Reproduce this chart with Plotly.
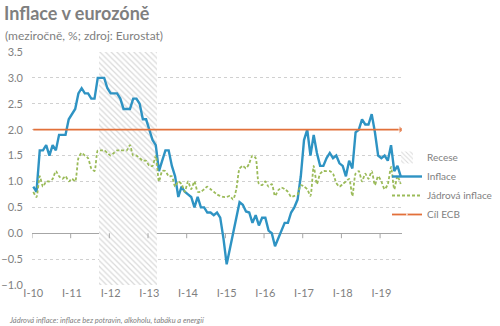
import plotly.graph_objects as go

# ---------------- data ----------------
tick_labels = ["I-10", "I-11", "I-12", "I-13", "I-14", "I-15", "I-16", "I-17", "I-18", "I-19"]

inflace = [
    0.9, 0.8, 1.6, 1.6, 1.7, 1.5, 1.7, 1.6, 1.9, 1.9, 1.9, 2.2,      # 2010
    2.3, 2.4, 2.7, 2.8, 2.7, 2.7, 2.6, 2.6, 3.0, 3.0, 3.0, 2.8,      # 2011
    2.7, 2.7, 2.7, 2.6, 2.4, 2.4, 2.4, 2.6, 2.6, 2.5, 2.2, 2.2,      # 2012
    2.0, 1.8, 1.7, 1.2, 1.4, 1.6, 1.6, 1.3, 1.1, 0.7, 0.9, 0.8,      # 2013
    0.75, 0.7, 0.5, 0.7, 0.5, 0.5, 0.4, 0.4, 0.35, 0.4, 0.3, -0.1,   # 2014
    -0.6, -0.3, 0.0, 0.3, 0.6, 0.55, 0.42, 0.4, 0.2, 0.35, 0.15, 0.3,  # 2015
    0.3, 0.05, 0.0, -0.25, -0.1, 0.05, 0.2, 0.2, 0.4, 0.5, 0.65, 1.1,  # 2016
    1.8, 2.0, 1.5, 1.9, 1.55, 1.3, 1.3, 1.45, 1.55, 1.45, 1.5, 1.35,  # 2017
    1.3, 1.1, 1.4, 1.25, 1.95, 2.0, 2.2, 2.1, 2.1, 2.3, 1.95, 1.5,    # 2018
    1.45, 1.5, 1.4, 1.7, 1.2, 1.3, 1.1,                               # 2019
]

jadrova = [
    0.8, 0.7, 1.1, 0.9, 1.0, 1.0, 1.05, 1.2, 1.1, 1.05, 1.1, 1.0,     # 2010
    1.05, 1.0, 1.45, 1.55, 1.5, 1.45, 1.25, 1.2, 1.6, 1.6, 1.6, 1.55,  # 2011
    1.5, 1.55, 1.6, 1.6, 1.6, 1.6, 1.7, 1.5, 1.5, 1.45, 1.4, 1.4,     # 2012
    1.3, 1.3, 1.5, 1.0, 1.2, 1.2, 1.1, 1.1, 0.9, 1.0, 0.95, 0.8,      # 2013
    1.0, 0.85, 1.0, 0.8, 0.8, 0.85, 0.9, 0.85, 0.8, 0.75, 0.72, 0.7,  # 2014
    0.7, 0.72, 0.65, 0.85, 1.25, 1.3, 1.25, 1.35, 1.5, 1.45, 0.95, 0.93,  # 2015
    1.0, 0.9, 0.95, 0.72, 0.83, 0.88, 0.85, 0.8, 0.7, 0.72, 0.75, 0.93,  # 2016
    0.9, 0.85, 0.72, 1.3, 0.95, 1.15, 1.2, 1.2, 1.2, 1.15, 0.97, 0.9,   # 2017
    0.95, 1.0, 1.05, 0.72, 1.15, 1.2, 1.0, 1.15, 1.05, 1.2, 0.93, 1.1,  # 2018
    1.0, 0.85, 0.95, 1.28, 0.85, 1.1, 0.95,                              # 2019
]

cil_ecb = 2.0
recese_od = 21   # month index (X-2011)
recese_do = 38   # month index (III-2013)

# ---------------- derived ----------------
n = len(inflace)
months = list(range(n))
tick_vals = [12 * i for i in range(len(tick_labels))]

W, H = 500, 326
L, R, T, B = 32, 98, 52, 41
pw, ph = W - L - R, H - T - B


def px_x(x):
    return (x - L) / pw


def px_y(y):
    return (H - B - y) / ph


GRAY = "#7F7F7F"
FONT = "Lato"

fig = go.Figure()

ymin, ymax = -1.0, 3.5

# recession band (hatched)
fig.add_trace(go.Bar(
    x=[(recese_od + recese_do) / 2], y=[ymax - ymin], base=[ymin],
    width=[recese_do - recese_od + 1],
    name="Recese",
    marker=dict(color="white", line=dict(width=0),
                pattern=dict(shape="\\", fgcolor="#B3B3B3", bgcolor="white",
                             size=4, solidity=0.3)),
    hoverinfo="skip",
))

fig.add_trace(go.Scatter(
    x=months, y=inflace, mode="lines", name="Inflace",
    line=dict(color="#2E93C3", width=2.4),
))

fig.add_trace(go.Scatter(
    x=months, y=jadrova, mode="lines", name="Jádrová inflace",
    line=dict(color="#9BBB59", width=1.8, dash="3px,2px", shape="spline", smoothing=0.6),
))

ecb_x = months
ecb_y = [cil_ecb] * n
fig.add_trace(go.Scatter(
    x=ecb_x, y=ecb_y, mode="lines+markers", name="Cíl ECB",
    line=dict(color="#E2703A", width=1.8),
    marker=dict(symbol="triangle-right", color="#E2703A",
                size=[0] * (n - 1) + [7]),
))

# x-axis tick marks at y=0
shapes = []
for tv in tick_vals:
    shapes.append(dict(type="line", xref="x", yref="y", x0=tv - 0.4, x1=tv - 0.4,
                       ysizemode="pixel", yanchor=0, y0=0, y1=-5,
                       line=dict(color="#A6A6A6", width=1)))

annotations = [
    dict(text="(meziročně, %; zdroj: Eurostat)", xref="paper", yref="paper",
         x=px_x(3), y=px_y(36), xanchor="left", yanchor="middle", showarrow=False,
         font=dict(family=FONT, size=12, color=GRAY)),
    dict(text="<i>Jádrová inflace: inflace bez potravin, alkoholu, tabáku a energií</i>",
         xref="paper", yref="paper",
         x=px_x(7), y=px_y(320), xanchor="left", yanchor="middle", showarrow=False,
         font=dict(family=FONT, size=7.5, color=GRAY)),
]

fig.update_layout(
    width=W, height=H,
    margin=dict(l=L, r=R, t=T, b=B, pad=0, autoexpand=False),
    paper_bgcolor="white", plot_bgcolor="white",
    font=dict(family=FONT, size=11, color=GRAY),
    title=dict(text="<b>Inflace v eurozóně</b>", x=4 / W, xanchor="left", xref="container",
               y=1 - 14 / H, yanchor="middle", yref="container",
               font=dict(family=FONT, size=18, color=GRAY)),
    bargap=0,
    showlegend=True,
    legend=dict(x=387 / W, y=1 - 143 / H, xref="container", yref="container",
                xanchor="left", yanchor="top",
                bgcolor="rgba(0,0,0,0)", font=dict(family=FONT, size=10, color=GRAY),
                itemwidth=30, traceorder="normal"),
    shapes=shapes,
    annotations=annotations,
)

fig.update_xaxes(range=[-0.4, n - 0.6], tickvals=tick_vals, ticktext=tick_labels,
                 showgrid=False, zeroline=False, showline=False, ticks="",
                 tickfont=dict(family=FONT, size=11, color=GRAY))
fig.update_yaxes(range=[ymin, ymax], dtick=0.5, tickformat=".1f",
                 showgrid=True, gridcolor="#D0D0D0", griddash="dot", gridwidth=1,
                 zeroline=True, zerolinecolor="#A6A6A6", zerolinewidth=1,
                 showline=False, ticks="", ticklabelstandoff=8,
                 tickfont=dict(family=FONT, size=11, color=GRAY))

fig.write_html("out.html")
